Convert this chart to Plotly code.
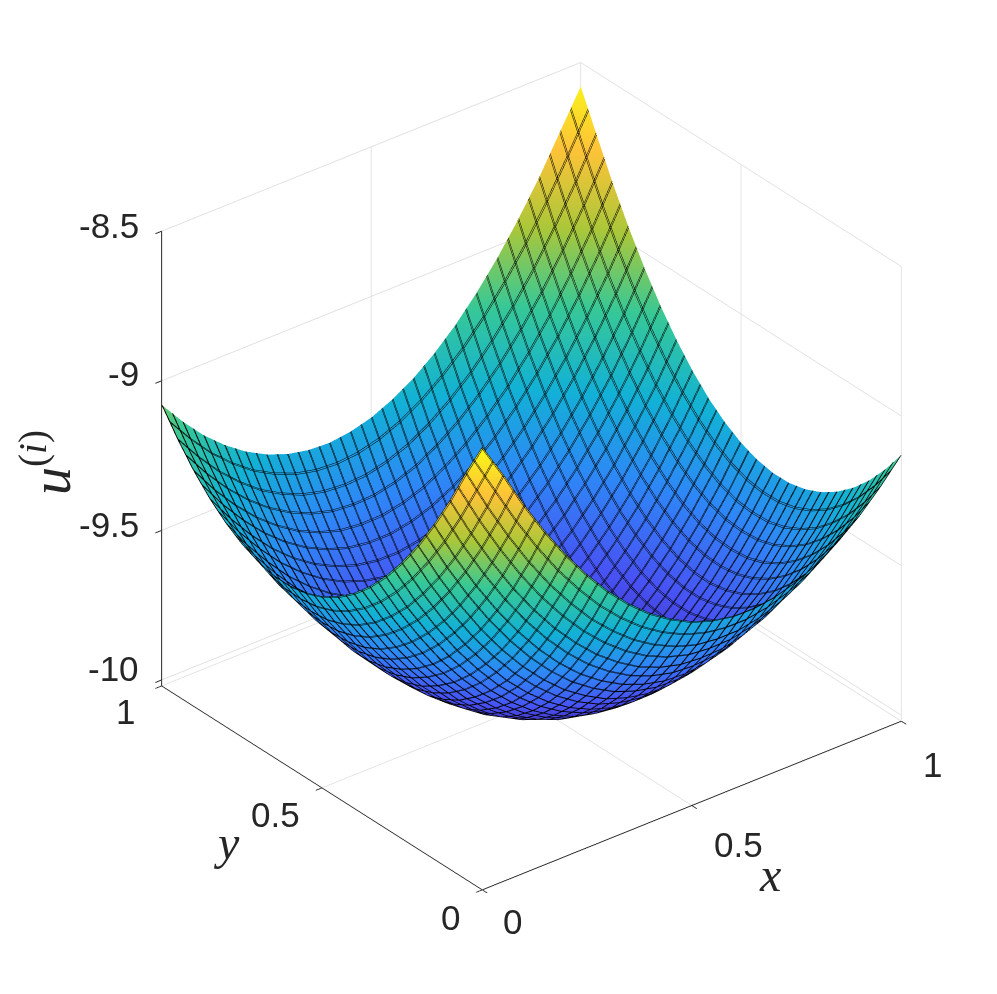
import plotly.graph_objects as go

x_vals = [0.00,0.05,0.10,0.15,0.20,0.25,0.30,0.35,0.40,0.45,0.50,0.55,0.60,0.65,0.70,0.75,0.80,0.85,0.90,0.95,1.00]
y_vals = [0.00,0.05,0.10,0.15,0.20,0.25,0.30,0.35,0.40,0.45,0.50,0.55,0.60,0.65,0.70,0.75,0.80,0.85,0.90,0.95,1.00]
z_vals = [
[-8.540,-8.660,-8.790,-8.907,-9.013,-9.107,-9.190,-9.261,-9.321,-9.368,-9.405,-9.429,-9.443,-9.444,-9.434,-9.412,-9.379,-9.334,-9.278,-9.209,-9.130],
[-8.658,-8.797,-8.924,-9.040,-9.144,-9.235,-9.317,-9.384,-9.442,-9.487,-9.521,-9.544,-9.552,-9.552,-9.538,-9.513,-9.477,-9.428,-9.368,-9.296,-9.212],
[-8.785,-8.922,-9.047,-9.162,-9.263,-9.353,-9.430,-9.497,-9.551,-9.595,-9.625,-9.644,-9.650,-9.647,-9.630,-9.602,-9.561,-9.510,-9.446,-9.371,-9.283],
[-8.900,-9.036,-9.159,-9.270,-9.369,-9.457,-9.533,-9.597,-9.648,-9.688,-9.716,-9.733,-9.737,-9.729,-9.709,-9.678,-9.635,-9.580,-9.512,-9.433,-9.342],
[-9.003,-9.137,-9.258,-9.367,-9.464,-9.549,-9.622,-9.684,-9.732,-9.771,-9.795,-9.809,-9.810,-9.799,-9.777,-9.742,-9.695,-9.638,-9.566,-9.485,-9.389],
[-9.095,-9.226,-9.345,-9.452,-9.546,-9.630,-9.700,-9.759,-9.806,-9.840,-9.863,-9.873,-9.872,-9.858,-9.832,-9.795,-9.744,-9.683,-9.609,-9.523,-9.425],
[-9.175,-9.305,-9.420,-9.526,-9.617,-9.698,-9.766,-9.822,-9.866,-9.898,-9.917,-9.926,-9.920,-9.905,-9.875,-9.835,-9.782,-9.717,-9.640,-9.551,-9.449],
[-9.244,-9.370,-9.484,-9.587,-9.676,-9.754,-9.819,-9.873,-9.914,-9.944,-9.960,-9.965,-9.957,-9.939,-9.907,-9.863,-9.806,-9.739,-9.659,-9.567,-9.462],
[-9.301,-9.425,-9.536,-9.636,-9.722,-9.799,-9.861,-9.912,-9.950,-9.977,-9.991,-9.994,-9.983,-9.960,-9.925,-9.880,-9.820,-9.750,-9.665,-9.570,-9.463],
[-9.346,-9.468,-9.577,-9.673,-9.758,-9.830,-9.890,-9.939,-9.974,-9.998,-10.009,-10.008,-9.996,-9.970,-9.933,-9.883,-9.821,-9.748,-9.661,-9.564,-9.452],
[-9.380,-9.499,-9.605,-9.699,-9.780,-9.851,-9.907,-9.953,-9.986,-10.007,-10.015,-10.012,-9.996,-9.968,-9.927,-9.876,-9.810,-9.734,-9.645,-9.544,-9.430],
[-9.402,-9.519,-9.621,-9.713,-9.791,-9.858,-9.913,-9.955,-9.986,-10.003,-10.009,-10.003,-9.984,-9.954,-9.910,-9.855,-9.788,-9.708,-9.617,-9.513,-9.396],
[-9.413,-9.525,-9.625,-9.715,-9.790,-9.855,-9.905,-9.945,-9.973,-9.989,-9.991,-9.982,-9.960,-9.927,-9.881,-9.824,-9.752,-9.671,-9.576,-9.470,-9.351],
[-9.412,-9.522,-9.619,-9.704,-9.776,-9.838,-9.887,-9.924,-9.947,-9.960,-9.960,-9.949,-9.924,-9.888,-9.839,-9.779,-9.706,-9.622,-9.524,-9.415,-9.294],
[-9.399,-9.506,-9.600,-9.682,-9.752,-9.810,-9.855,-9.890,-9.910,-9.921,-9.917,-9.903,-9.876,-9.837,-9.786,-9.723,-9.647,-9.561,-9.460,-9.350,-9.225],
[-9.375,-9.478,-9.569,-9.648,-9.714,-9.770,-9.812,-9.843,-9.862,-9.868,-9.863,-9.845,-9.816,-9.774,-9.720,-9.655,-9.576,-9.487,-9.385,-9.271,-9.145],
[-9.339,-9.440,-9.526,-9.603,-9.665,-9.717,-9.757,-9.784,-9.800,-9.804,-9.795,-9.776,-9.742,-9.699,-9.642,-9.574,-9.494,-9.402,-9.298,-9.182,-9.053],
[-9.292,-9.388,-9.472,-9.545,-9.605,-9.653,-9.689,-9.714,-9.727,-9.728,-9.716,-9.693,-9.658,-9.612,-9.553,-9.482,-9.399,-9.305,-9.199,-9.081,-8.950],
[-9.233,-9.326,-9.406,-9.475,-9.531,-9.577,-9.610,-9.632,-9.640,-9.639,-9.625,-9.600,-9.561,-9.512,-9.450,-9.378,-9.293,-9.197,-9.087,-8.967,-8.835],
[-9.162,-9.250,-9.328,-9.392,-9.447,-9.487,-9.518,-9.536,-9.542,-9.538,-9.521,-9.493,-9.452,-9.400,-9.337,-9.261,-9.174,-9.076,-8.964,-8.843,-8.708],
[-9.080,-9.164,-9.238,-9.299,-9.349,-9.387,-9.414,-9.429,-9.433,-9.424,-9.405,-9.373,-9.331,-9.276,-9.210,-9.132,-9.043,-8.942,-8.830,-8.705,-8.580],
]
xy_ticks = [0, 0.5, 1]
xy_labels = ["0", "0.5", "1"]
z_ticks = [-10, -9.5, -9, -8.5]
z_labels = ["-10", "-9.5", "-9", "-8.5"]

parula = [[0.0,"rgb(62,38,168)"],[0.143,"rgb(72,82,244)"],[0.286,"rgb(46,135,247)"],
          [0.429,"rgb(18,177,214)"],[0.571,"rgb(55,200,151)"],[0.714,"rgb(171,199,57)"],
          [0.857,"rgb(254,195,56)"],[1.0,"rgb(249,251,21)"]]

TXT = "#262626"
mesh = dict(show=True, start=0, end=1, size=0.025, color="black", width=2, highlight=False)
mesh2 = dict(show=True, start=0.002, end=1, size=0.025, color="black", width=2, highlight=False)
surf = go.Surface(x=x_vals, y=y_vals, z=z_vals, colorscale=parula, showscale=False,
                  lighting=dict(ambient=1, diffuse=0, specular=0, roughness=1, fresnel=0),
                  contours=dict(x=mesh, y=mesh), hoverinfo="skip")
surf2 = go.Surface(x=x_vals, y=y_vals, z=z_vals, colorscale=parula, showscale=False, hidesurface=True,
                   contours=dict(x=mesh2, y=mesh2), hoverinfo="skip")
def axis(ticks, labels, rng):
    return dict(range=rng, tickmode="array", tickvals=ticks, ticktext=labels, title=dict(text=""),
                showbackground=False, showgrid=True, gridcolor="#e0e0e0", gridwidth=2,
                zeroline=False, showspikes=False, showline=True, linecolor=TXT, linewidth=2,
                ticks="outside", ticklen=8, tickcolor=TXT, tickwidth=2, showticklabels=False)
def label(text, x, y, z, dx, dy, anchor="center"):
    return dict(text=text, x=x, y=y, z=z, xshift=dx, yshift=dy, xanchor=anchor, showarrow=False,
                font=dict(family="Liberation Sans", size=35, color=TXT))
tick_texts = (
    [label(t, v, 0, -10.02, dx, dy) for t, v, dx, dy in zip(xy_labels, xy_ticks, [30, 46, 31], [-31, -39, -43])]
  + [label(t, 0, v, -10.02, dx, dy) for t, v, dx, dy in zip(xy_labels, xy_ticks, [-32, -47, -36], [-27, -26, -25])]
  + [label(t, 0, 1, v, -21, dy, "right") for t, v, dy in zip(z_labels, z_ticks, [12, 6, 7, 6])]
)
def title(text, px, py, size, angle=0):
    return dict(text=text, x=px/997, y=1-py/994, xref="paper", yref="paper", xanchor="center", yanchor="middle",
                showarrow=False, textangle=angle, font=dict(family="Liberation Serif", size=size, color=TXT))
fig = go.Figure([surf, surf2])
fig.update_layout(
    width=997, height=994, margin=dict(l=0, r=0, t=0, b=0),
    paper_bgcolor="white", showlegend=False,
    scene=dict(
        domain=dict(x=[0.0605, 0.9905], y=[0.042, 1.0]),
        xaxis=axis(xy_ticks, xy_labels, [0, 1]),
        yaxis=axis(xy_ticks, xy_labels, [0, 1]),
        zaxis=axis(z_ticks, z_labels, [-10.02, -8.5]),
        aspectmode="manual", aspectratio=dict(x=1.125, y=1.082, z=1.1076),
        camera=dict(projection=dict(type="orthographic"), up=dict(x=0, y=0, z=1),
                    center=dict(x=0, y=0, z=-0.019),
                    eye=dict(x=-0.992, y=-1.247, z=0.916)),
        annotations=tick_texts,
    ),
    annotations=[
        title("<i>x</i>", 762, 866, 48),
        title("<i>y</i>", 218, 834, 48),
        title("<i>u</i><sup>(<i>i</i>)</sup>", 38, 455, 56, -90),
    ],
)
fig.write_html("out.html")
